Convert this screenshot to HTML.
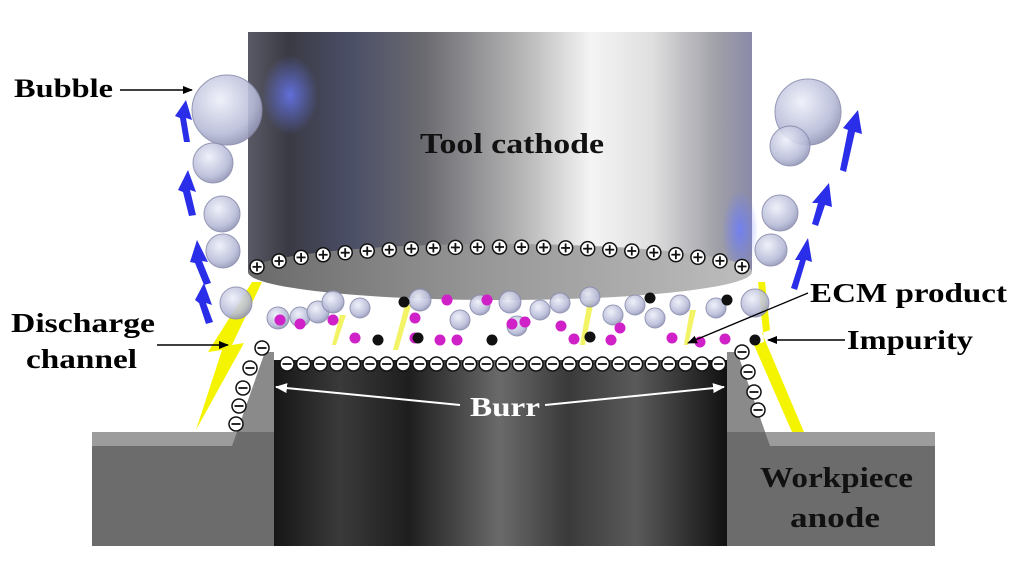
<!DOCTYPE html>
<html><head><meta charset="utf-8"><style>
html,body{margin:0;padding:0;background:#fff;}
svg{display:block;}
text{font-family:"Liberation Serif",serif;font-weight:bold;}
</style></head><body>
<svg id="s" width="1024" height="576" viewBox="0 0 1024 576" xmlns="http://www.w3.org/2000/svg">
<defs>
<linearGradient id="tool" x1="0" x2="1" y1="0" y2="0">
<stop offset="0" stop-color="#5a5a66"/><stop offset="0.08" stop-color="#3a3a44"/>
<stop offset="0.2" stop-color="#4a4e66"/><stop offset="0.35" stop-color="#6a6a70"/>
<stop offset="0.55" stop-color="#b8b8b8"/><stop offset="0.68" stop-color="#f4f4f4"/>
<stop offset="0.8" stop-color="#e0e0e0"/><stop offset="0.93" stop-color="#a0a0a8"/>
<stop offset="1" stop-color="#8a8aa8"/></linearGradient>
<linearGradient id="face" x1="0" x2="1"><stop offset="0" stop-color="#6a6a6a"/><stop offset="0.5" stop-color="#9a9a9a"/><stop offset="1" stop-color="#bdbdbd"/></linearGradient>
<linearGradient id="hole" x1="0" x2="1">
<stop offset="0" stop-color="#151515"/><stop offset="0.15" stop-color="#3a3a3a"/><stop offset="0.3" stop-color="#1e1e1e"/>
<stop offset="0.5" stop-color="#6a6a6a"/><stop offset="0.65" stop-color="#3a3a3a"/><stop offset="0.8" stop-color="#5a5a5a"/><stop offset="1" stop-color="#111"/></linearGradient>
<radialGradient id="bub" cx="0.4" cy="0.35" r="0.7"><stop offset="0" stop-color="#eef0fa"/><stop offset="0.7" stop-color="#b8bcd8"/><stop offset="1" stop-color="#8c90b0"/></radialGradient>
<radialGradient id="blue" cx="0.5" cy="0.5" r="0.5"><stop offset="0" stop-color="#6a7cff" stop-opacity="0.8"/><stop offset="1" stop-color="#6a7cff" stop-opacity="0"/></radialGradient>
<marker id="ah" markerWidth="10" markerHeight="8" refX="9" refY="4" orient="auto" markerUnits="userSpaceOnUse"><path d="M0,0 L10,4 L0,8 z" fill="#000"/></marker>
<marker id="wh" markerWidth="12" markerHeight="10" refX="11" refY="5" orient="auto" markerUnits="userSpaceOnUse"><path d="M0,0 L12,5 L0,10 z" fill="#fff"/></marker>
</defs>
<rect x="248" y="32" width="504" height="240" fill="url(#tool)"/>
<ellipse cx="290" cy="95" rx="28" ry="40" fill="url(#blue)"/>
<ellipse cx="740" cy="230" rx="18" ry="40" fill="url(#blue)"/>
<ellipse cx="500" cy="272" rx="252" ry="28" fill="url(#face)"/>
<rect x="272" y="360" width="455" height="186" fill="url(#hole)"/>
<polygon points="92,432 237,432 265,352 274,352 274,546 92,546" fill="#6c6c6c"/>
<polygon points="92,432 237,432 232,446 92,446" fill="#9c9c9c"/>
<polygon points="727,352 737,352 765,432 935,432 935,546 727,546" fill="#6c6c6c"/>
<polygon points="765,432 935,432 935,446 770,446" fill="#9c9c9c"/>
<polygon points="237,432 265,352 274,352 274,432" fill="#8a8a8a"/>
<polygon points="737,352 765,432 727,432 727,352" fill="#8a8a8a"/>
<polygon points="252,282 262,282 232,345 244,343 196,430 222,350 208,352" fill="#f4f400"/>
<polygon points="758,282 765,282 770,330 762,333 804,432 792,432 754,345 764,342" fill="#f4f400"/>
<g fill="#f0f040" opacity="0.8">
<polygon points="340,315 346,315 336,345 332,345"/><polygon points="405,305 411,305 398,350 393,350"/>
<polygon points="588,300 594,300 585,345 580,345"/><polygon points="690,310 696,310 688,345 684,345"/>
</g>
<g id="dyn"></g>
<g fill="#2a2ee8">
<polygon points="175,116 186,100 192,120 186,118 190,142 184,142 180,118"/>
<polygon points="178,190 188,170 196,192 190,190 196,215 189,216 183,192"/>
<polygon points="190,262 197,240 208,262 202,261 211,283 204,285 195,263"/>
<polygon points="195,300 204,283 212,305 206,303 213,322 206,324 199,303"/>
<polygon points="843,128 858,110 862,134 855,132 846,172 840,170 848,130"/>
<polygon points="812,203 829,183 832,207 825,205 818,226 812,224 818,203"/>
<polygon points="795,260 808,238 812,262 806,260 797,290 791,288 800,260"/>
</g>
<text x="14" y="97" font-size="26" textLength="99" lengthAdjust="spacingAndGlyphs">Bubble</text>
<line x1="120" y1="90" x2="192" y2="90" stroke="#000" stroke-width="1.5" marker-end="url(#ah)"/>
<text x="420" y="153" font-size="28" fill="#111" textLength="184" lengthAdjust="spacingAndGlyphs">Tool cathode</text>
<text x="11" y="332" font-size="27" textLength="144" lengthAdjust="spacingAndGlyphs">Discharge</text>
<text x="26" y="368" font-size="27" textLength="111" lengthAdjust="spacingAndGlyphs">channel</text>
<line x1="157" y1="345" x2="228" y2="345" stroke="#000" stroke-width="1.5" marker-end="url(#ah)"/>
<text x="810" y="302" font-size="27" textLength="197" lengthAdjust="spacingAndGlyphs">ECM product</text>
<line x1="808" y1="293" x2="688" y2="343" stroke="#000" stroke-width="1.3" marker-end="url(#ah)"/>
<text x="847" y="349" font-size="27" textLength="126" lengthAdjust="spacingAndGlyphs">Impurity</text>
<line x1="845" y1="340" x2="768" y2="340" stroke="#000" stroke-width="1.5" marker-end="url(#ah)"/>
<text x="470" y="416" font-size="27" fill="#fff" textLength="70" lengthAdjust="spacingAndGlyphs">Burr</text>
<line x1="460" y1="405" x2="276" y2="387" stroke="#fff" stroke-width="2" marker-end="url(#wh)"/>
<line x1="545" y1="405" x2="724" y2="387" stroke="#fff" stroke-width="2" marker-end="url(#wh)"/>
<text x="760" y="487" font-size="28" fill="#111" textLength="153" lengthAdjust="spacingAndGlyphs">Workpiece</text>
<text x="790" y="527" font-size="28" fill="#111" textLength="90" lengthAdjust="spacingAndGlyphs">anode</text>
</svg>
<script>
var g=document.getElementById('dyn'),h='';
function ion(x,y,plus){h+='<circle cx="'+x+'" cy="'+y+'" r="7" fill="#fff" stroke="#111" stroke-width="1.5"/><line x1="'+(x-4.5)+'" y1="'+y+'" x2="'+(x+4.5)+'" y2="'+y+'" stroke="#111" stroke-width="1.8"/>';if(plus)h+='<line x1="'+x+'" y1="'+(y-4.5)+'" x2="'+x+'" y2="'+(y+4.5)+'" stroke="#111" stroke-width="1.8"/>';}
function bub(x,y,r){h+='<circle cx="'+x+'" cy="'+y+'" r="'+r+'" fill="url(#bub)" stroke="#8a8cae" stroke-width="1" opacity="0.9"/>';}
function dot(x,y,c){h+='<circle cx="'+x+'" cy="'+y+'" r="5.5" fill="'+c+'"/>';}
for(var i=0;i<23;i++){var x=257+i*(485/22);var dx=(x-500)/252;ion(x,272-27*Math.sqrt(Math.max(0,1-dx*dx))+2,true);}
for(var i=0;i<27;i++){ion(287+i*16.6,364,false);}
[[262,348],[250,368],[243,388],[239,406],[236,424]].forEach(function(p){ion(p[0],p[1],false);});
[[742,352],[748,372],[754,392],[758,410]].forEach(function(p){ion(p[0],p[1],false);});
[[278,318,11],[300,317,10],[318,312,11],[333,302,11],[360,308,10],[420,300,11],[460,320,10],[480,305,10],[510,302,11],[517,326,10],[540,310,10],[560,303,10],[590,297,10],[613,315,10],[635,305,10],[655,318,10],[680,305,10],[716,308,10],[755,303,14]].forEach(function(b){bub(b[0],b[1],b[2]);});
[[280,320],[300,324],[333,320],[355,338],[415,318],[415,338],[447,300],[487,300],[440,340],[457,340],[512,324],[525,322],[561,326],[574,339],[611,340],[620,328],[672,338],[700,342],[725,339]].forEach(function(p){dot(p[0],p[1],'#d020c8');});
[[378,340],[404,302],[418,338],[492,340],[590,337],[650,298],[727,300],[755,340]].forEach(function(p){dot(p[0],p[1],'#111');});
bub(227,110,35);bub(213,163,20);bub(222,214,18);bub(223,251,17);bub(236,303,16);
bub(808,112,33);bub(790,146,20);bub(780,213,18);bub(771,250,16);
g.innerHTML=h;
</script>
</body></html>
